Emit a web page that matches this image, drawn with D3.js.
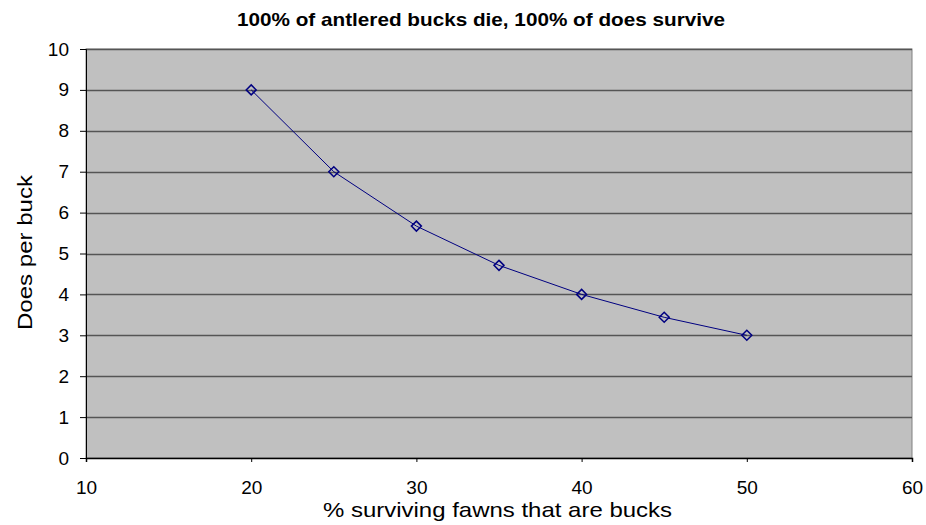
<!DOCTYPE html>
<html>
<head>
<meta charset="utf-8">
<script src="https://cdn.jsdelivr.net/npm/d3@7"></script>
<style>
  body { margin: 0; background: #fff; }
  text { font-family: "Liberation Sans", Arial, sans-serif; }
</style>
</head>
<body>
<div id="chart"></div>
<script>
// Chart data
const pctBucks = [20, 25, 30, 35, 40, 45, 50];
const doesPerBuck = [9, 7, 5.67, 4.71, 4, 3.44, 3];
const xTicks = [10, 20, 30, 40, 50, 60];
const yTicks = [0, 1, 2, 3, 4, 5, 6, 7, 8, 9, 10];

const width = 926, height = 525;
const margin = { top: 49, right: 14, bottom: 67, left: 86 };
const innerW = width - margin.left - margin.right;
const innerH = height - margin.top - margin.bottom;

const svg = d3.select("#chart").append("svg")
    .attr("width", width)
    .attr("height", height);

const g = svg.append("g")
    .attr("transform", `translate(${margin.left},${margin.top})`);

const x = d3.scaleLinear().domain([10, 60]).range([0, innerW]);
const y = d3.scaleLinear().domain([0, 10]).range([innerH, 0]);

// Plot area background
g.append("rect")
    .attr("width", innerW)
    .attr("height", innerH)
    .attr("fill", "#c0c0c0")
    .attr("stroke", "#808080")
    .attr("stroke-width", 1);

// Horizontal gridlines
g.selectAll(".grid")
    .data(yTicks.filter(d => d > 0))
    .enter().append("line")
    .attr("x1", 0)
    .attr("x2", innerW)
    .attr("y1", d => Math.round(y(d)) + 0.5)
    .attr("y2", d => Math.round(y(d)) + 0.5)
    .attr("stroke", "#555")
    .attr("stroke-width", 1.5);

// Axes
const xAxis = g.append("g")
    .attr("transform", `translate(0,${innerH})`)
    .call(d3.axisBottom(x).tickValues(xTicks).tickSize(4).tickPadding(19));

const yAxis = g.append("g")
    .call(d3.axisLeft(y).tickValues(yTicks).tickSize(6).tickPadding(11));

[xAxis, yAxis].forEach(a => {
    a.selectAll("path, line").attr("stroke", "#000");
    a.selectAll("text")
        .attr("font-size", "19px")
        .attr("fill", "#000")
        .style("font-family", "'Liberation Sans', Arial, sans-serif");
});
xAxis.select(".domain").attr("stroke-width", 1.5);

// Line and markers
const pts = pctBucks.map((p, i) => ({ x: p, y: doesPerBuck[i] }));

g.append("path")
    .datum(pts)
    .attr("fill", "none")
    .attr("stroke", "#000080")
    .attr("stroke-width", 1)
    .attr("d", d3.line().x(d => x(d.x)).y(d => y(d.y)));

g.selectAll(".marker")
    .data(pts)
    .enter().append("path")
    .attr("transform", d => `translate(${x(d.x)},${y(d.y)})`)
    .attr("d", "M0,-5L5,0L0,5L-5,0Z")
    .attr("fill", "none")
    .attr("stroke", "#000080")
    .attr("stroke-width", 1.5);

// Title
svg.append("text")
    .attr("x", 237)
    .attr("y", 26)
    .attr("font-size", "18.5px")
    .attr("font-weight", "bold")
    .attr("textLength", 488)
    .attr("lengthAdjust", "spacingAndGlyphs")
    .text("100% of antlered bucks die, 100% of does survive");

// Axis titles
svg.append("text")
    .attr("x", 323)
    .attr("y", 517)
    .attr("font-size", "21px")
    .attr("textLength", 349)
    .attr("lengthAdjust", "spacingAndGlyphs")
    .text("% surviving fawns that are bucks");

svg.append("text")
    .attr("transform", `translate(32,330) rotate(-90)`)
    .attr("font-size", "21px")
    .attr("textLength", 155)
    .attr("lengthAdjust", "spacingAndGlyphs")
    .text("Does per buck");
</script>
</body>
</html>
